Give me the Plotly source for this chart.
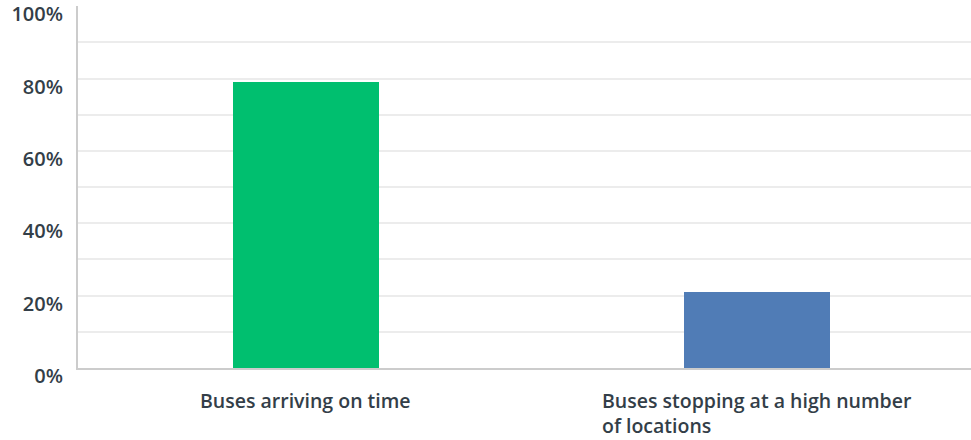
import plotly.graph_objects as go

categories = ["Buses arriving on time", "Buses stopping at a high number<br>of locations"]
values = [79, 21]
colors = ["#00bf6f", "#507cb6"]
tick_vals = [0, 20, 40, 60, 80, 100]
tick_text = ["0%", "20%", "40%", "60%", "80%", "100%"]
grid_vals = [10, 20, 30, 40, 50, 60, 70, 80, 90]

FONT = "Open Sans"
TXT = "#333e48"

fig = go.Figure()
fig.add_trace(go.Bar(
    x=list(range(len(categories))),
    y=values,
    marker=dict(color=colors, line=dict(width=0)),
    width=0.324,
    hoverinfo="skip",
))

for i, c in enumerate(categories):
    fig.add_annotation(
        x=i, xref="x", y=-0.047, yref="paper", yanchor="top",
        xanchor="center", align="left", text=c, showarrow=False,
        font=dict(family=FONT, size=19.5, color=TXT, weight=600),
    )

fig.update_layout(
    width=971, height=440,
    margin=dict(l=78, r=0, t=6, b=72),
    paper_bgcolor="white", plot_bgcolor="white",
    showlegend=False,
    bargap=0,
    xaxis=dict(
        range=[-0.5055, 1.4745],
        showticklabels=False, showgrid=False, zeroline=False,
        showline=True, linecolor="#cccccc", linewidth=2,
        fixedrange=True,
    ),
    yaxis=dict(
        range=[0, 100.05],
        tickvals=tick_vals, ticktext=tick_text,
        showgrid=False, zeroline=False,
        showline=True, linecolor="#cccccc", linewidth=2,
        ticks="", ticklabelstandoff=9, ticklabelshift=8,
        tickfont=dict(family=FONT, size=20, color=TXT, weight=600),
        minor=dict(tickvals=grid_vals, showgrid=True, gridcolor="#ececec", gridwidth=2, ticks=""),
        fixedrange=True,
    ),
)

fig.write_html("out.html", config={"displayModeBar": False, "staticPlot": True},
               post_script="document.body.style.margin='0';document.body.style.overflow='hidden';")
